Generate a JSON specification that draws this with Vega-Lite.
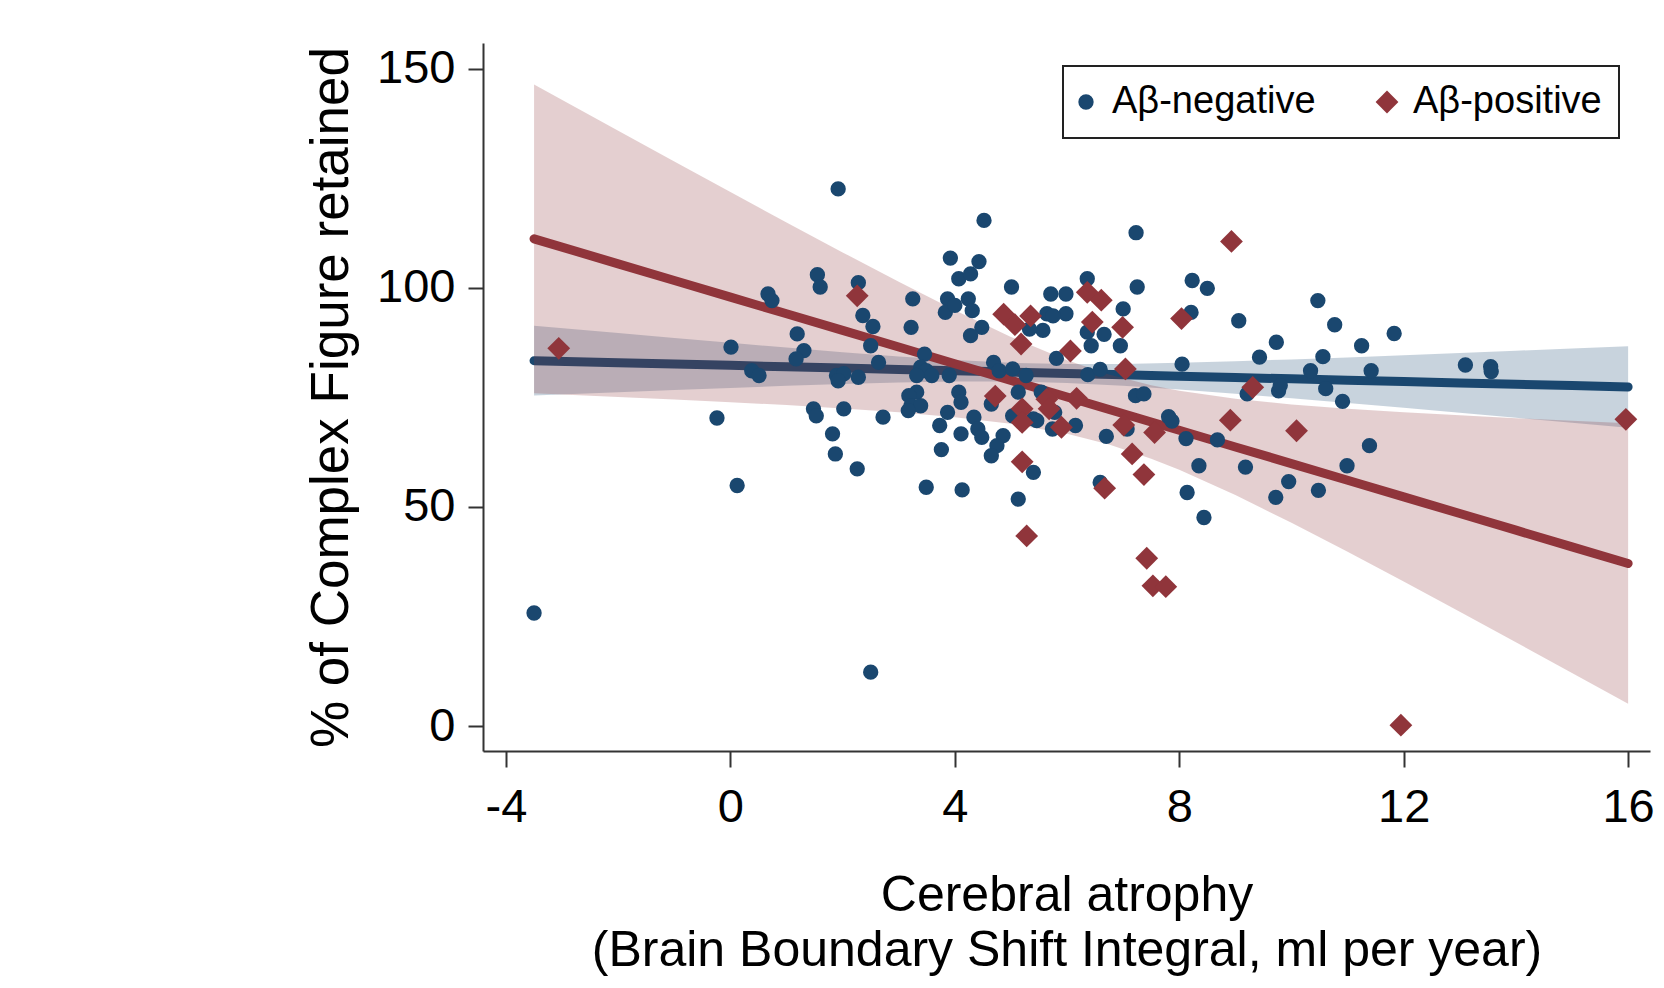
{
  "$schema": "https://vega.github.io/schema/vega-lite/v6.json",
  "width": 1167,
  "height": 708,
  "autosize": {"type": "none"},
  "padding": {"left": 483, "top": 43, "right": 14, "bottom": 237},
  "background": "white",
  "datasets": {
    "fitneg": [
      {"x": -3.5, "lo": 75.42, "hi": 91.38, "fit": 83.4},
      {"x": -2, "lo": 76.2, "hi": 89.68, "fit": 82.94},
      {"x": -1, "lo": 76.7, "hi": 88.56, "fit": 82.63},
      {"x": 0, "lo": 77.18, "hi": 87.46, "fit": 82.32},
      {"x": 1, "lo": 77.65, "hi": 86.37, "fit": 82.01},
      {"x": 2, "lo": 78.08, "hi": 85.34, "fit": 81.71},
      {"x": 3, "lo": 78.43, "hi": 84.37, "fit": 81.4},
      {"x": 4, "lo": 78.65, "hi": 83.53, "fit": 81.09},
      {"x": 5, "lo": 78.65, "hi": 82.91, "fit": 80.78},
      {"x": 6, "lo": 78.32, "hi": 82.62, "fit": 80.47},
      {"x": 7, "lo": 77.68, "hi": 82.66, "fit": 80.17},
      {"x": 8, "lo": 76.83, "hi": 82.89, "fit": 79.86},
      {"x": 9, "lo": 75.84, "hi": 83.26, "fit": 79.55},
      {"x": 10, "lo": 74.8, "hi": 83.68, "fit": 79.24},
      {"x": 11, "lo": 73.72, "hi": 84.14, "fit": 78.93},
      {"x": 12, "lo": 72.62, "hi": 84.64, "fit": 78.63},
      {"x": 13, "lo": 71.5, "hi": 85.14, "fit": 78.32},
      {"x": 14, "lo": 70.36, "hi": 85.66, "fit": 78.01},
      {"x": 15, "lo": 69.22, "hi": 86.18, "fit": 77.7},
      {"x": 16, "lo": 68.07, "hi": 86.71, "fit": 77.39}
    ],
    "fitpos": [
      {"x": -3.5, "lo": 75.95, "hi": 146.45, "fit": 111.2},
      {"x": -2, "lo": 75.12, "hi": 135.88, "fit": 105.5},
      {"x": -1, "lo": 74.54, "hi": 128.86, "fit": 101.7},
      {"x": 0, "lo": 73.92, "hi": 121.88, "fit": 97.9},
      {"x": 1, "lo": 73.25, "hi": 114.95, "fit": 94.1},
      {"x": 2, "lo": 72.49, "hi": 108.11, "fit": 90.3},
      {"x": 3, "lo": 71.61, "hi": 101.39, "fit": 86.5},
      {"x": 4, "lo": 70.5, "hi": 94.9, "fit": 82.7},
      {"x": 5, "lo": 68.98, "hi": 88.82, "fit": 78.9},
      {"x": 6, "lo": 66.71, "hi": 83.49, "fit": 75.1},
      {"x": 6.75, "lo": 64.25, "hi": 80.25, "fit": 72.25},
      {"x": 7.5, "lo": 61.01, "hi": 77.79, "fit": 69.4},
      {"x": 8, "lo": 58.47, "hi": 76.53, "fit": 67.5},
      {"x": 9, "lo": 52.71, "hi": 74.69, "fit": 63.7},
      {"x": 10, "lo": 46.39, "hi": 73.41, "fit": 59.9},
      {"x": 11, "lo": 39.77, "hi": 72.43, "fit": 56.1},
      {"x": 12, "lo": 32.98, "hi": 71.62, "fit": 52.3},
      {"x": 13, "lo": 26.09, "hi": 70.91, "fit": 48.5},
      {"x": 14, "lo": 19.13, "hi": 70.27, "fit": 44.7},
      {"x": 15, "lo": 12.13, "hi": 69.67, "fit": 40.9},
      {"x": 16, "lo": 5.1, "hi": 69.1, "fit": 37.1}
    ],
    "pts": [
      {"x": 4.52, "y": 115.4, "g": "Aβ-negative"},
      {"x": 3.92, "y": 106.8, "g": "Aβ-negative"},
      {"x": 4.43, "y": 106.0, "g": "Aβ-negative"},
      {"x": 4.07, "y": 102.1, "g": "Aβ-negative"},
      {"x": 4.28, "y": 103.2, "g": "Aβ-negative"},
      {"x": 5.01, "y": 100.2, "g": "Aβ-negative"},
      {"x": 1.55, "y": 103.0, "g": "Aβ-negative"},
      {"x": 1.6, "y": 100.2, "g": "Aβ-negative"},
      {"x": 0.67, "y": 98.6, "g": "Aβ-negative"},
      {"x": 0.74, "y": 97.1, "g": "Aβ-negative"},
      {"x": 2.28, "y": 101.2, "g": "Aβ-negative"},
      {"x": 3.25, "y": 97.5, "g": "Aβ-negative"},
      {"x": 3.22, "y": 91.0, "g": "Aβ-negative"},
      {"x": 2.36, "y": 93.7, "g": "Aβ-negative"},
      {"x": 2.54, "y": 91.2, "g": "Aβ-negative"},
      {"x": 2.5, "y": 86.8, "g": "Aβ-negative"},
      {"x": 2.64, "y": 83.0, "g": "Aβ-negative"},
      {"x": 1.19, "y": 89.5, "g": "Aβ-negative"},
      {"x": 1.31, "y": 85.7, "g": "Aβ-negative"},
      {"x": 1.17, "y": 83.8, "g": "Aβ-negative"},
      {"x": 0.01, "y": 86.5, "g": "Aβ-negative"},
      {"x": 0.38, "y": 81.1, "g": "Aβ-negative"},
      {"x": 0.51, "y": 80.0, "g": "Aβ-negative"},
      {"x": 1.89, "y": 80.0, "g": "Aβ-negative"},
      {"x": 2.02, "y": 80.4, "g": "Aβ-negative"},
      {"x": 1.92, "y": 78.8, "g": "Aβ-negative"},
      {"x": 2.28, "y": 79.6, "g": "Aβ-negative"},
      {"x": 3.87, "y": 97.5, "g": "Aβ-negative"},
      {"x": 3.83, "y": 94.4, "g": "Aβ-negative"},
      {"x": 4.0, "y": 96.0, "g": "Aβ-negative"},
      {"x": 4.24, "y": 97.5, "g": "Aβ-negative"},
      {"x": 4.31, "y": 94.8, "g": "Aβ-negative"},
      {"x": 4.48, "y": 91.0, "g": "Aβ-negative"},
      {"x": 4.28, "y": 89.1, "g": "Aβ-negative"},
      {"x": 5.71, "y": 98.6, "g": "Aβ-negative"},
      {"x": 5.98, "y": 98.6, "g": "Aβ-negative"},
      {"x": 5.98, "y": 94.1, "g": "Aβ-negative"},
      {"x": 5.64, "y": 94.1, "g": "Aβ-negative"},
      {"x": 5.75, "y": 93.6, "g": "Aβ-negative"},
      {"x": 5.57, "y": 90.3, "g": "Aβ-negative"},
      {"x": 5.33, "y": 90.6, "g": "Aβ-negative"},
      {"x": 5.81, "y": 83.9, "g": "Aβ-negative"},
      {"x": 3.46, "y": 84.9, "g": "Aβ-negative"},
      {"x": 3.39, "y": 81.9, "g": "Aβ-negative"},
      {"x": 3.49, "y": 81.1, "g": "Aβ-negative"},
      {"x": 3.32, "y": 80.0, "g": "Aβ-negative"},
      {"x": 3.59, "y": 80.0, "g": "Aβ-negative"},
      {"x": 3.9, "y": 80.0, "g": "Aβ-negative"},
      {"x": 3.32, "y": 76.2, "g": "Aβ-negative"},
      {"x": 3.18, "y": 75.4, "g": "Aβ-negative"},
      {"x": 3.22, "y": 73.1, "g": "Aβ-negative"},
      {"x": 3.39, "y": 73.1, "g": "Aβ-negative"},
      {"x": 3.17, "y": 72.0, "g": "Aβ-negative"},
      {"x": 4.07, "y": 76.2, "g": "Aβ-negative"},
      {"x": 4.11, "y": 73.9, "g": "Aβ-negative"},
      {"x": 4.69, "y": 83.0, "g": "Aβ-negative"},
      {"x": 4.79, "y": 81.1, "g": "Aβ-negative"},
      {"x": 5.03, "y": 81.5, "g": "Aβ-negative"},
      {"x": 5.27, "y": 80.0, "g": "Aβ-negative"},
      {"x": 5.13, "y": 76.2, "g": "Aβ-negative"},
      {"x": 4.65, "y": 73.5, "g": "Aβ-negative"},
      {"x": 5.54, "y": 76.2, "g": "Aβ-negative"},
      {"x": 3.87, "y": 71.6, "g": "Aβ-negative"},
      {"x": 3.73, "y": 68.6, "g": "Aβ-negative"},
      {"x": 4.34, "y": 70.5, "g": "Aβ-negative"},
      {"x": 4.41, "y": 67.8, "g": "Aβ-negative"},
      {"x": 4.48, "y": 65.9, "g": "Aβ-negative"},
      {"x": 4.11, "y": 66.7, "g": "Aβ-negative"},
      {"x": 4.86, "y": 66.3, "g": "Aβ-negative"},
      {"x": 4.75, "y": 64.0, "g": "Aβ-negative"},
      {"x": 4.65, "y": 61.7, "g": "Aβ-negative"},
      {"x": 3.76, "y": 63.1, "g": "Aβ-negative"},
      {"x": 5.03, "y": 70.8, "g": "Aβ-negative"},
      {"x": 5.4, "y": 70.1, "g": "Aβ-negative"},
      {"x": 5.74, "y": 67.8, "g": "Aβ-negative"},
      {"x": 6.15, "y": 68.6, "g": "Aβ-negative"},
      {"x": 5.78, "y": 71.6, "g": "Aβ-negative"},
      {"x": 5.4, "y": 57.9, "g": "Aβ-negative"},
      {"x": 5.13, "y": 51.8, "g": "Aβ-negative"},
      {"x": 3.49, "y": 54.5, "g": "Aβ-negative"},
      {"x": 4.13, "y": 53.9, "g": "Aβ-negative"},
      {"x": 1.48, "y": 72.4, "g": "Aβ-negative"},
      {"x": 1.53, "y": 70.8, "g": "Aβ-negative"},
      {"x": 2.02, "y": 72.4, "g": "Aβ-negative"},
      {"x": 2.72, "y": 70.5, "g": "Aβ-negative"},
      {"x": 1.82, "y": 66.7, "g": "Aβ-negative"},
      {"x": 1.87, "y": 62.1, "g": "Aβ-negative"},
      {"x": 2.26, "y": 58.7, "g": "Aβ-negative"},
      {"x": -0.24, "y": 70.3, "g": "Aβ-negative"},
      {"x": 0.12, "y": 54.9, "g": "Aβ-negative"},
      {"x": -3.5, "y": 25.8, "g": "Aβ-negative"},
      {"x": 2.5, "y": 12.3, "g": "Aβ-negative"},
      {"x": 1.92, "y": 122.6, "g": "Aβ-negative"},
      {"x": 7.23, "y": 112.6, "g": "Aβ-negative"},
      {"x": 6.36, "y": 102.1, "g": "Aβ-negative"},
      {"x": 7.25, "y": 100.2, "g": "Aβ-negative"},
      {"x": 8.23, "y": 101.7, "g": "Aβ-negative"},
      {"x": 8.5, "y": 99.9, "g": "Aβ-negative"},
      {"x": 7.0, "y": 95.2, "g": "Aβ-negative"},
      {"x": 8.21, "y": 94.4, "g": "Aβ-negative"},
      {"x": 9.06, "y": 92.5, "g": "Aβ-negative"},
      {"x": 10.47, "y": 97.1, "g": "Aβ-negative"},
      {"x": 10.77, "y": 91.6, "g": "Aβ-negative"},
      {"x": 11.83, "y": 89.6, "g": "Aβ-negative"},
      {"x": 11.25, "y": 86.8, "g": "Aβ-negative"},
      {"x": 9.73, "y": 87.6, "g": "Aβ-negative"},
      {"x": 9.43, "y": 84.2, "g": "Aβ-negative"},
      {"x": 10.56, "y": 84.3, "g": "Aβ-negative"},
      {"x": 13.1, "y": 82.4, "g": "Aβ-negative"},
      {"x": 13.55, "y": 82.0, "g": "Aβ-negative"},
      {"x": 13.56, "y": 80.9, "g": "Aβ-negative"},
      {"x": 11.42, "y": 81.1, "g": "Aβ-negative"},
      {"x": 10.34, "y": 81.1, "g": "Aβ-negative"},
      {"x": 10.61, "y": 77.0, "g": "Aβ-negative"},
      {"x": 9.77, "y": 76.5, "g": "Aβ-negative"},
      {"x": 9.21, "y": 75.8, "g": "Aβ-negative"},
      {"x": 10.91, "y": 74.1, "g": "Aβ-negative"},
      {"x": 8.05, "y": 82.6, "g": "Aβ-negative"},
      {"x": 7.22, "y": 75.4, "g": "Aβ-negative"},
      {"x": 7.37, "y": 75.8, "g": "Aβ-negative"},
      {"x": 7.81, "y": 70.6, "g": "Aβ-negative"},
      {"x": 7.87, "y": 69.6, "g": "Aβ-negative"},
      {"x": 8.12, "y": 65.6, "g": "Aβ-negative"},
      {"x": 8.68, "y": 65.3, "g": "Aβ-negative"},
      {"x": 11.39, "y": 64.0, "g": "Aβ-negative"},
      {"x": 8.35, "y": 59.4, "g": "Aβ-negative"},
      {"x": 9.18, "y": 59.1, "g": "Aβ-negative"},
      {"x": 10.99, "y": 59.4, "g": "Aβ-negative"},
      {"x": 9.95, "y": 55.8, "g": "Aβ-negative"},
      {"x": 10.48, "y": 53.8, "g": "Aβ-negative"},
      {"x": 9.72, "y": 52.2, "g": "Aβ-negative"},
      {"x": 8.14, "y": 53.3, "g": "Aβ-negative"},
      {"x": 8.44, "y": 47.6, "g": "Aβ-negative"},
      {"x": 6.7, "y": 66.1, "g": "Aβ-negative"},
      {"x": 7.07, "y": 67.8, "g": "Aβ-negative"},
      {"x": 6.59, "y": 55.6, "g": "Aβ-negative"},
      {"x": 6.36, "y": 89.9, "g": "Aβ-negative"},
      {"x": 6.43, "y": 86.8, "g": "Aβ-negative"},
      {"x": 6.66, "y": 89.4, "g": "Aβ-negative"},
      {"x": 6.95, "y": 86.8, "g": "Aβ-negative"},
      {"x": 6.37, "y": 80.2, "g": "Aβ-negative"},
      {"x": 6.59, "y": 81.4, "g": "Aβ-negative"},
      {"x": 5.46, "y": 69.7, "g": "Aβ-negative"},
      {"x": 9.8, "y": 77.7, "g": "Aβ-negative"},
      {"x": -3.06, "y": 86.2, "g": "Aβ-positive"},
      {"x": 2.26, "y": 98.2, "g": "Aβ-positive"},
      {"x": 4.87, "y": 94.0, "g": "Aβ-positive"},
      {"x": 5.07, "y": 91.6, "g": "Aβ-positive"},
      {"x": 5.35, "y": 93.6, "g": "Aβ-positive"},
      {"x": 5.18, "y": 87.2, "g": "Aβ-positive"},
      {"x": 6.06, "y": 85.6, "g": "Aβ-positive"},
      {"x": 4.72, "y": 75.3, "g": "Aβ-positive"},
      {"x": 5.2, "y": 72.4, "g": "Aβ-positive"},
      {"x": 5.2, "y": 69.3, "g": "Aβ-positive"},
      {"x": 5.64, "y": 74.6, "g": "Aβ-positive"},
      {"x": 5.68, "y": 72.4, "g": "Aβ-positive"},
      {"x": 5.9, "y": 68.2, "g": "Aβ-positive"},
      {"x": 5.2, "y": 60.3, "g": "Aβ-positive"},
      {"x": 5.28, "y": 43.4, "g": "Aβ-positive"},
      {"x": 8.93, "y": 110.6, "g": "Aβ-positive"},
      {"x": 6.36, "y": 99.0, "g": "Aβ-positive"},
      {"x": 6.61, "y": 97.2, "g": "Aβ-positive"},
      {"x": 8.04, "y": 93.0, "g": "Aβ-positive"},
      {"x": 6.45, "y": 92.2, "g": "Aβ-positive"},
      {"x": 6.99, "y": 91.0, "g": "Aβ-positive"},
      {"x": 7.04, "y": 81.5, "g": "Aβ-positive"},
      {"x": 9.31, "y": 77.3, "g": "Aβ-positive"},
      {"x": 6.17, "y": 74.8, "g": "Aβ-positive"},
      {"x": 7.01, "y": 68.7, "g": "Aβ-positive"},
      {"x": 7.56, "y": 67.0, "g": "Aβ-positive"},
      {"x": 8.91, "y": 69.8, "g": "Aβ-positive"},
      {"x": 10.09, "y": 67.4, "g": "Aβ-positive"},
      {"x": 15.96, "y": 70.0, "g": "Aβ-positive"},
      {"x": 7.16, "y": 62.1, "g": "Aβ-positive"},
      {"x": 7.37, "y": 57.4, "g": "Aβ-positive"},
      {"x": 6.67, "y": 54.3, "g": "Aβ-positive"},
      {"x": 7.42, "y": 38.3, "g": "Aβ-positive"},
      {"x": 7.53, "y": 32.0, "g": "Aβ-positive"},
      {"x": 7.76, "y": 31.8, "g": "Aβ-positive"},
      {"x": 11.95, "y": 0.2, "g": "Aβ-positive"}
    ]
  },
  "layer": [
    {
      "data": {"name": "fitneg"},
      "mark": {"type": "area", "color": "#1a476f", "opacity": 0.24},
      "encoding": {
        "x": {
          "field": "x", "type": "quantitative",
          "title": ["Cerebral atrophy", "(Brain Boundary Shift Integral, ml per year)"],
          "scale": {"domain": [-4.41, 16.39], "nice": false, "zero": false},
          "axis": {
            "values": [-4, 0, 4, 8, 12, 16],
            "labelExpr": "'' + datum.value",
            "tickSize": 16, "labelPadding": 17, "labelFontSize": 47,
            "titleFontSize": 50, "titleLineHeight": 55, "titlePadding": 40,
            "labelFlush": false, "labelOverlap": false
          }
        },
        "y": {
          "field": "lo", "type": "quantitative",
          "title": "% of Complex Figure retained",
          "scale": {"domain": [-5.7, 155.9], "nice": false, "zero": false},
          "axis": {
            "values": [0, 50, 100, 150],
            "labelExpr": "'' + datum.value",
            "tickSize": 15, "labelPadding": 13, "labelFontSize": 47,
            "titleFontSize": 53, "titlePadding": 18,
            "labelFlush": false, "labelOverlap": false
          }
        },
        "y2": {"field": "hi"}
      }
    },
    {
      "data": {"name": "fitneg"},
      "mark": {"type": "line", "color": "#1a476f", "strokeWidth": 9, "strokeCap": "round"},
      "encoding": {
        "x": {"field": "x", "type": "quantitative", "title": ["Cerebral atrophy", "(Brain Boundary Shift Integral, ml per year)"]},
        "y": {"field": "fit", "type": "quantitative", "title": "% of Complex Figure retained"}
      }
    },
    {
      "data": {"name": "fitpos"},
      "mark": {"type": "area", "color": "#90353b", "opacity": 0.24},
      "encoding": {
        "x": {"field": "x", "type": "quantitative", "title": ["Cerebral atrophy", "(Brain Boundary Shift Integral, ml per year)"]},
        "y": {"field": "lo", "type": "quantitative", "title": "% of Complex Figure retained"},
        "y2": {"field": "hi"}
      }
    },
    {
      "data": {"name": "fitpos"},
      "mark": {"type": "line", "color": "#90353b", "strokeWidth": 9, "strokeCap": "round"},
      "encoding": {
        "x": {"field": "x", "type": "quantitative", "title": ["Cerebral atrophy", "(Brain Boundary Shift Integral, ml per year)"]},
        "y": {"field": "fit", "type": "quantitative", "title": "% of Complex Figure retained"}
      }
    },
    {
      "data": {"name": "pts"},
      "mark": {"type": "point", "filled": true, "opacity": 1, "strokeWidth": 0},
      "encoding": {
        "x": {"field": "x", "type": "quantitative", "title": ["Cerebral atrophy", "(Brain Boundary Shift Integral, ml per year)"]},
        "y": {"field": "y", "type": "quantitative", "title": "% of Complex Figure retained"},
        "color": {
          "field": "g", "type": "nominal",
          "scale": {"domain": ["Aβ-negative", "Aβ-positive"], "range": ["#1a476f", "#90353b"]},
          "legend": {"title": null, "orient": "none", "legendX": 580, "legendY": 23, "direction": "horizontal", "columns": 2}
        },
        "shape": {
          "field": "g", "type": "nominal",
          "scale": {"domain": ["Aβ-negative", "Aβ-positive"], "range": ["circle", "diamond"]},
          "legend": {"title": null}
        },
        "size": {
          "field": "g", "type": "nominal",
          "scale": {"domain": ["Aβ-negative", "Aβ-positive"], "range": [235, 520]},
          "legend": {"title": null}
        }
      }
    }
  ],
  "config": {
    "view": {"stroke": null},
    "font": "Liberation Sans",
    "axis": {
      "grid": false,
      "domainColor": "#333333",
      "domainWidth": 2,
      "tickColor": "#333333",
      "tickWidth": 2,
      "labelFont": "Liberation Sans",
      "titleFont": "Liberation Sans",
      "labelColor": "#000000",
      "titleColor": "#000000",
      "titleFontWeight": "normal"
    },
    "legend": {
      "labelFont": "Liberation Sans",
      "labelFontSize": 38,
      "labelColor": "#000000",
      "labelLimit": 500,
      "strokeColor": "#222222",
      "strokeWidth": 2,
      "fillColor": "white",
      "padding": 17,
      "columnPadding": 59,
      "labelOffset": 7,
      "symbolOffset": -13,
      "symbolOpacity": 1,
      "symbolStrokeWidth": 0
    }
  }
}
